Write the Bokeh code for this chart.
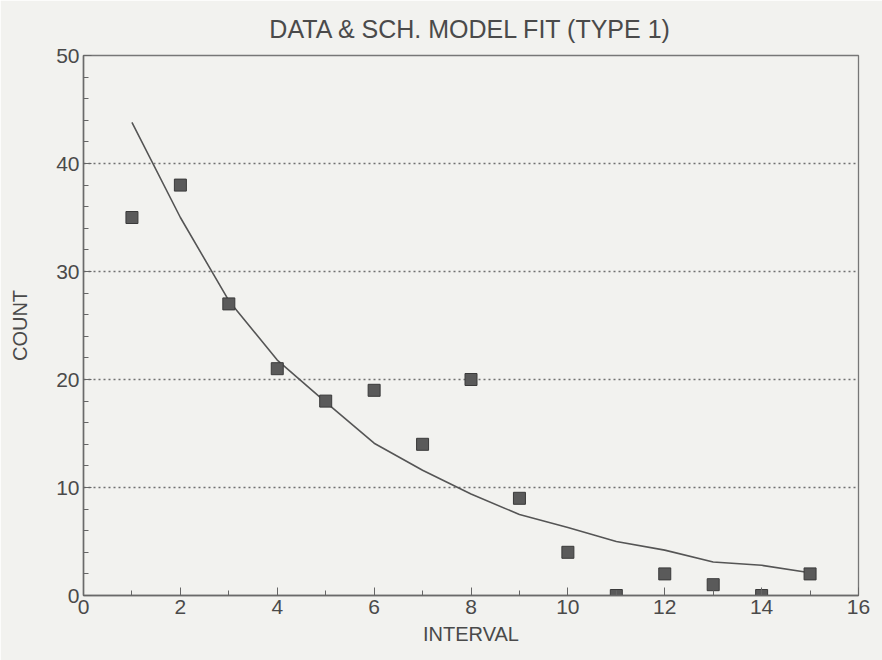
from bokeh.plotting import figure
from bokeh.models import SingleIntervalTicker, Range1d
from bokeh.embed import file_html
from bokeh.resources import INLINE

interval = [1, 2, 3, 4, 5, 6, 7, 8, 9, 10, 11, 12, 13, 14, 15]
count = [35, 38, 27, 21, 18, 19, 14, 20, 9, 4, 0, 2, 1, 0, 2]
model = [43.8, 35.0, 27.3, 21.8, 17.9, 14.1, 11.6, 9.4, 7.5, 6.3, 5.0, 4.2, 3.1, 2.8, 2.1]

FONT = "Liberation Sans"
TXT = "#4a4a4a"
BG = "#f2f2ef"

p = figure(width=882, height=660, output_backend="svg", toolbar_location=None,
           x_range=Range1d(0, 16), y_range=Range1d(0, 50),
           min_border_left=83, min_border_right=24, min_border_top=55, min_border_bottom=65,
           background_fill_color=BG, border_fill_color=BG)

p.title.text = "DATA & SCH. MODEL FIT (TYPE 1)"
p.title.align = "center"
p.title.vertical_align = "top"
p.title.text_font = FONT
p.title.text_font_size = "25px"
p.title.text_font_style = "normal"
p.title.text_color = TXT
p.title.offset = 0
p.title.standoff = 22

p.line(interval, model, line_color="#555555", line_width=1.6)
p.scatter(interval, count, marker="square", size=12, fill_color="#5a5a5a",
          line_color="#3a3a3a", line_width=1)

p.xaxis.ticker = SingleIntervalTicker(interval=2, num_minor_ticks=2)
p.yaxis.ticker = SingleIntervalTicker(interval=10, num_minor_ticks=5)
p.xaxis.axis_label = "INTERVAL"
p.yaxis.axis_label = "COUNT"

for ax in (p.xaxis[0], p.yaxis[0]):
    ax.axis_label_text_font = FONT
    ax.axis_label_text_font_size = "20px"
    ax.axis_label_text_font_style = "normal"
    ax.axis_label_text_color = TXT
    ax.major_label_text_font = FONT
    ax.major_label_text_font_size = "21px"
    ax.major_label_text_color = TXT
    ax.axis_line_color = "#6a6a6a"
    ax.axis_line_width = 1.5
    ax.major_tick_in = 8
    ax.major_tick_out = 0
    ax.minor_tick_in = 5
    ax.minor_tick_out = 0
    ax.major_tick_line_color = "#666666"
    ax.minor_tick_line_color = "#666666"
    ax.major_label_standoff = 4

p.xaxis[0].axis_label_standoff = 6
p.yaxis[0].axis_label_standoff = 22

p.xgrid.grid_line_color = None
p.ygrid.grid_line_color = "#707070"
p.ygrid.grid_line_dash = "2 3"
p.ygrid.grid_line_width = 1.3

p.outline_line_color = "#777777"
p.outline_line_width = 1.3

open("out.html", "w").write(file_html(p, INLINE))
